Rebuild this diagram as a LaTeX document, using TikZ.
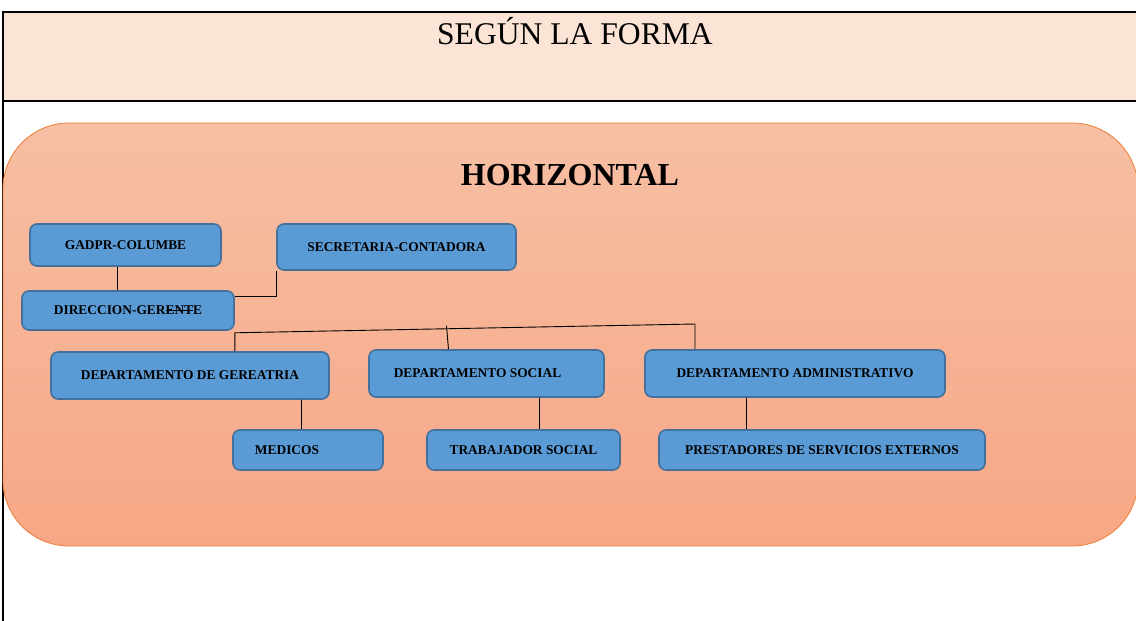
\documentclass[tikz,border=0pt]{standalone}
\usepackage{fontspec}
\setmainfont{Liberation Serif}
\usepackage{xcolor}
\usetikzlibrary{calc}
\definecolor{headfill}{HTML}{FBE4D5}
\definecolor{panetop}{HTML}{F7BFA4}
\definecolor{panebot}{HTML}{F7A785}
\definecolor{paneline}{HTML}{ED7D31}
\definecolor{boxfill}{HTML}{5B9BD5}
\definecolor{boxline}{HTML}{41719C}
\newcommand{\tachar}[1]{\setbox0\hbox{#1}\rlap{\rule[0.33em]{\wd0}{0.07em}}#1}

\begin{document}
\begin{tikzpicture}[x=1pt,y=-1pt,
  unidad/.style={draw=boxline, line width=1.6pt, fill=boxfill, rounded corners=7pt,
    inner sep=0pt, font=\fontsize{13.4}{15}\selectfont\bfseries},
  linea/.style={line width=0.9pt}]
\useasboundingbox (0,0) rectangle (1136,621);
% table cell
\fill[headfill] (4,12) rectangle (1136,101);
\draw[line width=1.8pt] (1136,12) -- (3,12) -- (3,621);
\draw[line width=1.8pt] (3,101) -- (1136,101);
\node[anchor=base] (forma) at (575,44) {\fontsize{31.6}{34}\selectfont SEGÚN LA FORMA};
% panel
\draw[paneline, line width=0.8pt, top color=panetop, bottom color=panebot, rounded corners=66pt]
  (3,123) rectangle (1138,546);
\node[anchor=base] (horiz) at (570,185) {\fontsize{32}{36}\selectfont\bfseries HORIZONTAL};
%
\node[unidad, minimum width=191pt, minimum height=42pt] (gadpr) at (125.5,245) {GADPR-COLUMBE};
\node[unidad, minimum width=239pt, minimum height=46pt] (secre) at (396.5,247) {SECRETARIA-CONTADORA};
\node[unidad, minimum width=212pt, minimum height=39pt] (direc) at (128,310.5) {DIRECCION-GER\tachar{ENT}E};
%
\node[unidad, minimum width=278pt, minimum height=47pt] (gere) at (190,375.5) {DEPARTAMENTO DE GEREATRIA};
\node[unidad, minimum width=235pt, minimum height=47pt] (social) at (486.5,373.5) {\hspace*{-18pt}DEPARTAMENTO SOCIAL};
\node[unidad, minimum width=300pt, minimum height=47pt] (admin) at (795,373.5) {DEPARTAMENTO ADMINISTRATIVO};
%
\node[unidad, minimum width=150pt, minimum height=40pt] (medicos) at (308,450) {\hspace*{-42pt}MEDICOS};
\node[unidad, minimum width=193pt, minimum height=40pt] (trab) at (523.5,450) {TRABAJADOR SOCIAL};
\node[unidad, minimum width=326pt, minimum height=40pt] (prest) at (822,450) {PRESTADORES DE SERVICIOS EXTERNOS};
%
\draw[linea] ([xshift=-8.5pt]gadpr.south) -- ([xshift=-8.5pt]gadpr.south |- direc.north);
\draw[linea] ([yshift=-6.5pt]direc.north east) -| (secre.south west);
%
\coordinate (busl) at ([yshift=-2pt]direc.south east);
\coordinate (busr) at (695,324);
\coordinate (busm) at ($(busl)!0.46!(busr)$);
\draw[linea] (busl |- gere.north) -- (busl) -- (busr) -- (busr |- admin.north);
\draw[linea] ([yshift=3pt]busm) -- ([xshift=2pt]busm |- social.north);
%
\draw[linea] ([xshift=111pt]gere.south) -- ([xshift=111pt]gere.south |- medicos.north);
\draw[linea] ([xshift=52.5pt]social.south) -- ([xshift=52.5pt]social.south |- trab.north);
\draw[linea] ([xshift=-49pt]admin.south) -- ([xshift=-49pt]admin.south |- prest.north);
\end{tikzpicture}
\end{document}
